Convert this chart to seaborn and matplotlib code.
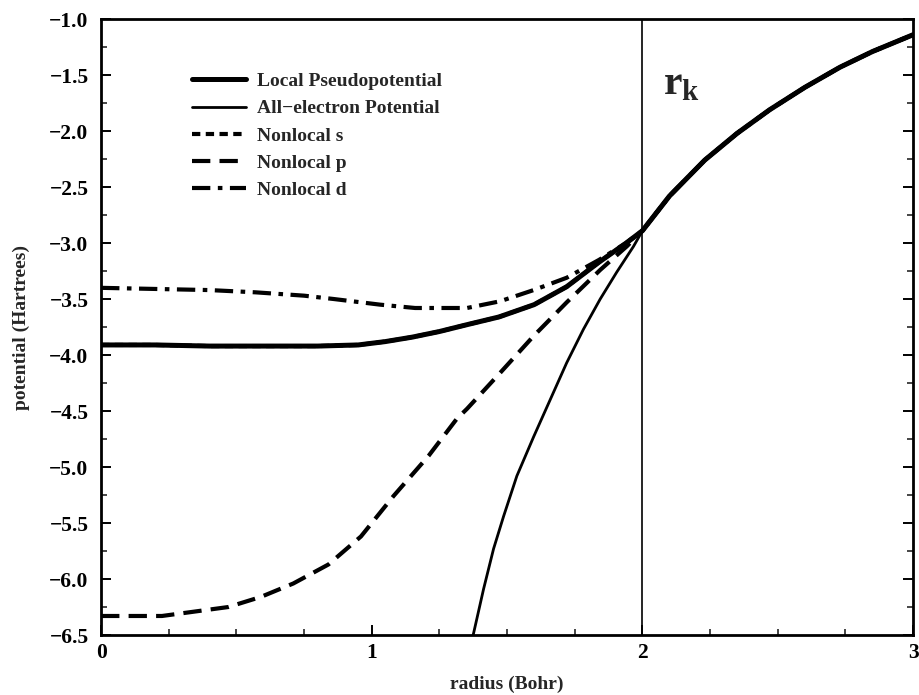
import matplotlib
matplotlib.use("Agg")
import matplotlib.pyplot as plt
from matplotlib.ticker import MultipleLocator, FixedLocator, FixedFormatter
import seaborn as sns
import pandas as pd

# ---------------- data ----------------
series_names = ["Local Pseudopotential", "All\u2212electron Potential",
                "Nonlocal s", "Nonlocal p", "Nonlocal d"]

# common tail beyond r_k (all curves coincide there)
r_outer = [2.10, 2.23, 2.35, 2.47, 2.60, 2.73, 2.85, 3.0]
v_outer = [-2.58, -2.26, -2.02, -1.81, -1.61, -1.43, -1.29, -1.14]

r_local = [0.0, 0.2, 0.4, 0.6, 0.8, 0.95, 1.05, 1.15, 1.25, 1.35, 1.47, 1.60,
           1.72, 1.84, 1.94, 2.0]
v_local = [-3.91, -3.91, -3.92, -3.92, -3.92, -3.91, -3.88, -3.84, -3.79, -3.73,
           -3.66, -3.55, -3.39, -3.17, -3.00, -2.89]

r_ae = [1.37, 1.413, 1.450, 1.487, 1.536, 1.598, 1.659, 1.72, 1.782, 1.844,
        1.905, 1.967, 2.0]
v_ae = [-6.55, -6.09, -5.73, -5.44, -5.08, -4.73, -4.40, -4.07, -3.77, -3.50,
        -3.26, -3.03, -2.89]

r_s = [0.0, 0.2, 0.4, 0.6, 0.8, 0.95, 1.05, 1.15, 1.25, 1.35, 1.47, 1.60,
       1.72, 1.84, 1.94, 2.0]
v_s = [-3.91, -3.91, -3.92, -3.92, -3.92, -3.91, -3.88, -3.84, -3.79, -3.73,
       -3.66, -3.55, -3.39, -3.17, -3.00, -2.89]

r_p = [0.0, 0.225, 0.47, 0.59, 0.71, 0.84, 0.96, 1.08, 1.21, 1.314, 1.352, 1.474,
       1.598, 1.72, 1.844, 1.942, 2.0]
v_p = [-6.33, -6.33, -6.25, -6.16, -6.04, -5.87, -5.62, -5.26, -4.90, -4.57, -4.48,
       -4.16, -3.83, -3.53, -3.24, -3.03, -2.89]

r_d = [0.0, 0.2, 0.4, 0.57, 0.75, 0.86, 1.03, 1.16, 1.25, 1.352, 1.474, 1.598,
       1.72, 1.84, 1.94, 2.0]
v_d = [-3.40, -3.41, -3.42, -3.44, -3.47, -3.50, -3.55, -3.58, -3.58, -3.58, -3.52,
       -3.42, -3.31, -3.15, -3.00, -2.89]

r_cut = 2.0
x_ticks = [0, 1, 2, 3]
x_tick_labels = ["0", "1", "2", "3"]
y_ticks = [-1.0, -1.5, -2.0, -2.5, -3.0, -3.5, -4.0, -4.5, -5.0, -5.5, -6.0, -6.5]
y_tick_labels = ["\u22121.0", "\u22121.5", "\u22122.0", "\u22122.5", "\u22123.0", "\u22123.5",
                 "\u22124.0", "\u22124.5", "\u22125.0", "\u22125.5", "\u22126.0", "\u22126.5"]

# ---------------- styling ----------------
sns.set_theme(style="ticks")
plt.rcParams["font.family"] = ["Liberation Serif", "DejaVu Serif"]
plt.rcParams["font.weight"] = "bold"
plt.rcParams["mathtext.fontset"] = "custom"
plt.rcParams["mathtext.bf"] = "Liberation Serif:bold"
plt.rcParams["mathtext.rm"] = "Liberation Serif"

fig = plt.figure(figsize=(9.19, 6.95), dpi=100)
ax = fig.add_axes([0.110, 0.0863, 0.8836, 0.8863])

ax.axvline(r_cut, color="black", lw=1.2, zorder=1)

def df(r, v):
    return pd.DataFrame({"r": r + r_outer, "v": v + v_outer})

sns.lineplot(data=df(r_s, v_s), x="r", y="v", ax=ax, color="black", lw=3.0,
             linestyle=(0, (2.0, 1.3)), label=series_names[2], zorder=3)
sns.lineplot(data=df(r_ae, v_ae), x="r", y="v", ax=ax, color="black", lw=2.0,
             label=series_names[1], zorder=3)
sns.lineplot(data=df(r_p, v_p), x="r", y="v", ax=ax, color="black", lw=3.0,
             linestyle=(0, (4.4, 2.2)), label=series_names[3], zorder=3)
sns.lineplot(data=df(r_d, v_d), x="r", y="v", ax=ax, color="black", lw=3.0,
             linestyle=(0, (4.4, 1.8, 1.1, 1.8)), label=series_names[4], zorder=3)
sns.lineplot(data=df(r_local, v_local), x="r", y="v", ax=ax, color="black", lw=3.6,
             label=series_names[0], zorder=4)
for ln in ax.lines:
    ln.set_solid_capstyle("round")
    ln.set_solid_joinstyle("round")

ax.set_xlim(0, 3)
ax.set_ylim(-6.5, -1.0)

ax.xaxis.set_major_locator(FixedLocator(x_ticks))
ax.xaxis.set_major_formatter(FixedFormatter(x_tick_labels))
ax.yaxis.set_major_locator(FixedLocator(y_ticks))
ax.yaxis.set_major_formatter(FixedFormatter(y_tick_labels))
ax.xaxis.set_minor_locator(MultipleLocator(0.25))
ax.yaxis.set_minor_locator(MultipleLocator(0.25))

ax.tick_params(which="major", direction="in", length=7, width=1.4,
               right=True, top=False, labelsize=15.5, colors="black")
ax.tick_params(which="minor", direction="in", length=4, width=1.2,
               right=True, top=False)
ax.tick_params(axis="y", pad=9)
ax.tick_params(axis="x", pad=6)
for lab in ax.get_xticklabels() + ax.get_yticklabels():
    lab.set_fontweight("bold")

for s in ax.spines.values():
    s.set_color("black")
    s.set_linewidth(2.0)

ax.set_xlabel("radius (Bohr)", fontsize=14, fontweight="bold", labelpad=9)
ax.set_ylabel("potential (Hartrees)", fontsize=14, fontweight="bold", labelpad=14)

handles, labels = ax.get_legend_handles_labels()
order = [labels.index(n) for n in series_names]
leg = ax.legend([handles[i] for i in order], [labels[i] for i in order],
                loc="upper left", bbox_to_anchor=(0.112, 0.913), frameon=False,
                borderpad=0, borderaxespad=0, handlelength=2.8, handletextpad=0.55,
                labelspacing=0.49, prop={"family": "Liberation Serif", "weight": "bold", "size": 14})

ax.text(2.075, -1.41, r"$\mathbf{r}_{\mathbf{k}}$", fontsize=30, ha="left", va="top")

fig.savefig("out.png", dpi=100)
